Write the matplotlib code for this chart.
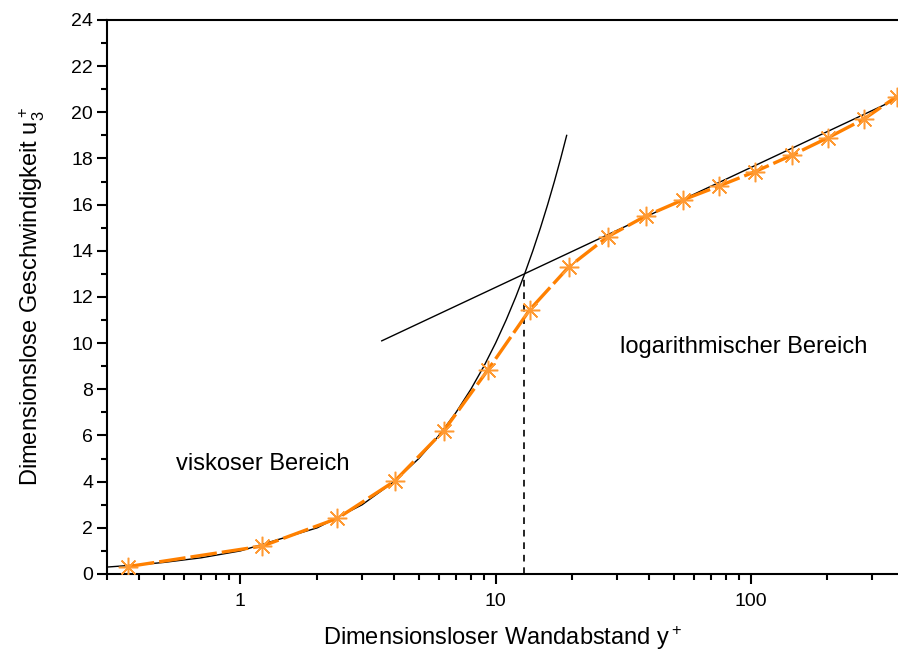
import matplotlib
matplotlib.use("Agg")
import matplotlib.pyplot as plt
from matplotlib.ticker import LogLocator, NullFormatter, FixedLocator

plt.rcParams['font.family'] = ['Liberation Sans', 'DejaVu Sans']
plt.rcParams['mathtext.fontset'] = 'custom'
plt.rcParams['mathtext.rm'] = 'Liberation Sans'
plt.rcParams['mathtext.it'] = 'Liberation Sans'

# Messwerte (orange)
y_plus = [0.362, 1.22, 2.40, 4.03, 6.27, 9.33, 13.6, 19.4, 27.5, 38.8,
          54.1, 75.3, 104, 145.5, 201, 278, 373]
u_plus = [0.32, 1.21, 2.41, 4.03, 6.21, 8.84, 11.44, 13.31, 14.61, 15.51,
          16.2, 16.81, 17.43, 18.15, 18.9, 19.71, 20.68]

# viskose Unterschicht u+ = y+
visc_y = [0.3, 0.4, 0.5, 0.7, 1, 2, 3, 4, 5, 6, 7, 8, 9, 10, 11, 12, 13,
          14, 15, 16, 17, 18, 19]
visc_u = [0.3, 0.4, 0.5, 0.7, 1, 2, 3, 4, 5, 6, 7, 8, 9, 10, 11, 12, 13,
          14, 15, 16, 17, 18, 19]

# logarithmischer Bereich (Gerade)
log_y = [3.58, 400]
log_u = [10.1, 20.73]

# Schnittpunkt
y_cross = 12.9
u_cross = 13.0

fig = plt.figure(figsize=(8.98, 6.53), dpi=100)
ax = fig.add_axes([0.1192, 0.121, 0.8808, 0.8484])

ax.plot(visc_y, visc_u, color='black', lw=1.0, zorder=3)
ax.plot(log_y, log_u, color='black', lw=1.0, zorder=3)
ax.plot([y_cross, y_cross], [0, u_cross], color='black', lw=1.2,
        dashes=(4, 3.5), zorder=3)

ax.plot(y_plus, u_plus, color='#ff8000', lw=2.4, dashes=(8, 1.5),
        zorder=4)
ax.plot(y_plus, u_plus, ls='none', marker=(8, 2, 0), markersize=14,
        markeredgecolor='#ff9a33', markeredgewidth=1.1, zorder=5)

ax.set_xscale('log')
ax.set_xlim(0.3, 378)
ax.set_ylim(0, 24)

ax.xaxis.set_major_locator(FixedLocator([1, 10, 100]))
ax.set_xticklabels(['1', '10', '100'])
ax.xaxis.set_minor_locator(LogLocator(base=10, subs=range(2, 10), numticks=20))
ax.xaxis.set_minor_formatter(NullFormatter())
ax.set_yticks(range(0, 25, 2))
ax.set_yticks(range(1, 24, 2), minor=True)

ax.spines['right'].set_visible(False)
for s in ['left', 'bottom', 'top']:
    ax.spines[s].set_linewidth(1.5)

ax.tick_params(which='major', direction='out', length=7, width=1.5,
               labelsize=14, pad=3)
ax.tick_params(which='minor', direction='out', length=4, width=1.5)
ax.tick_params(axis='x', which='major', pad=7)

ax.set_xlabel('Dimensionsloser Wandabstand $\\mathregular{y^+}$', fontsize=17,
              labelpad=10)
ax.set_ylabel('Dimensionslose Geschwindigkeit $\\mathregular{u_3^+}$',
              fontsize=17)
ax.yaxis.set_label_coords(-0.076, 0.5)

ax.text(0.557, 4.77, 'viskoser Bereich', fontsize=17, va='center', ha='left')
ax.text(30.7, 9.84, 'logarithmischer Bereich', fontsize=17, va='center',
        ha='left')

fig.savefig('out.png', dpi=100)
